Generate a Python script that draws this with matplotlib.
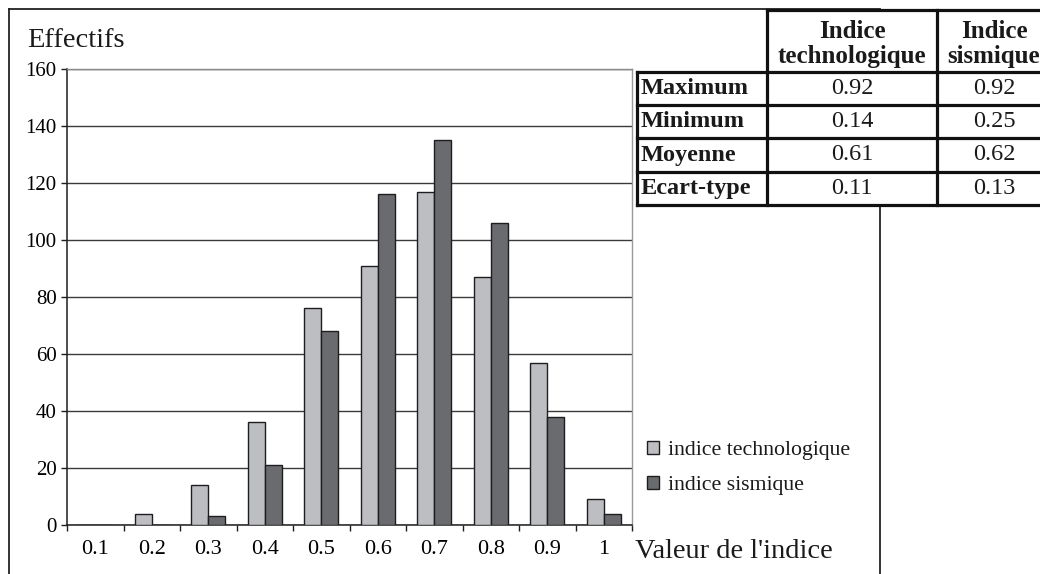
import numpy as np
import matplotlib
matplotlib.use("Agg")
import matplotlib.pyplot as plt
from matplotlib.lines import Line2D

# Histogram data: number of communes per index class
categories = ["0.1", "0.2", "0.3", "0.4", "0.5", "0.6", "0.7", "0.8", "0.9", "1"]
indice_techno = [0, 4, 14, 36, 76, 91, 117, 87, 57, 9]
indice_sismique = [0, 0, 3, 21, 68, 116, 135, 106, 38, 4]
series_names = ["indice technologique", "indice sismique"]

# Summary statistics table
stat_rows = ["Maximum", "Minimum", "Moyenne", "Ecart-type"]
stat_headers = [("Indice", "technologique"), ("Indice", "sismique")]
stats_techno = ["0.92", "0.14", "0.61", "0.11"]
stats_sismique = ["0.92", "0.25", "0.62", "0.13"]

LIGHT = "#bdbec2"
DARK = "#6a6b6f"
EDGE = "#1e1e1e"
GRID = "#3a3a3a"

plt.rcParams["font.family"] = ["Liberation Serif", "DejaVu Serif"]
plt.rcParams["text.color"] = "#1a1a1a"

W, H = 1040, 574
fig = plt.figure(figsize=(W / 100, H / 100), dpi=100)


def box(x0, y0, x1, y1):
    return [x0 / W, 1 - y1 / H, (x1 - x0) / W, (y1 - y0) / H]


# ---- bar chart ----
ax = fig.add_axes(box(67, 69, 632, 525))
x = np.arange(len(categories))
bw = 0.3
b1 = ax.bar(x - bw / 2, indice_techno, bw, color=LIGHT, edgecolor=EDGE,
            linewidth=1.0, zorder=3, label=series_names[0])
b2 = ax.bar(x + bw / 2, indice_sismique, bw, color=DARK, edgecolor=EDGE,
            linewidth=1.0, zorder=3, label=series_names[1])

ax.set_xlim(-0.5, len(categories) - 0.5)
ax.set_ylim(0, 160)
ax.set_yticks(np.arange(0, 161, 20))
ax.yaxis.grid(True, color=GRID, linewidth=1.0)
ax.set_axisbelow(True)

ax.set_xticks(np.arange(-0.5, len(categories), 1))
ax.set_xticklabels([])
ax.set_xticks(x, minor=True)
ax.set_xticklabels(categories, minor=True)
ax.tick_params(axis="x", which="major", length=4.5, width=1.0, color=EDGE,
               direction="out")
ax.tick_params(axis="x", which="minor", length=0, pad=11, labelsize=16)
ax.tick_params(axis="y", length=4.5, width=1.0, color=EDGE, pad=3,
               labelsize=15)

for side in ("left", "bottom"):
    ax.spines[side].set_color(EDGE)
    ax.spines[side].set_linewidth(1.1)
ax.spines["top"].set_color("#8a8a8a")
ax.spines["right"].set_color("#9a9a9a")
ax.spines["top"].set_linewidth(1.0)
ax.spines["right"].set_linewidth(1.0)

fig.text(27 / W, 1 - 47 / H, "Effectifs", fontsize=20.5, va="baseline",
         ha="left")
fig.text(635 / W, 1 - 558 / H, "Valeur de l'indice", fontsize=20.5,
         va="baseline", ha="left")

# ---- overlay in pixel coordinates for frame, legend and table ----
ov = fig.add_axes([0, 0, 1, 1], facecolor="none")
ov.set_xlim(0, W)
ov.set_ylim(H, 0)
ov.axis("off")

leg = ov.legend(handles=[b1, b2], labels=series_names, loc="upper left",
                bbox_to_anchor=(647, 441), bbox_transform=ov.transData,
                frameon=False, fontsize=15.7, handlelength=0.55,
                handleheight=0.55, handletextpad=0.4, labelspacing=0.7,
                borderpad=0, borderaxespad=0)

fw = 1.3
ov.add_line(Line2D([8.5, 8.5], [8.5, H], color="#222222", lw=fw))
ov.add_line(Line2D([8.5, 880], [8.5, 8.5], color="#222222", lw=fw))
ov.add_line(Line2D([879.5, 879.5], [205, H], color="#222222", lw=fw))

tw = 2.3
tc = "#111111"
xl, xc1, xc2, xr = 637, 767, 937, 1052
yt, yh, yb = 9.5, 72, 205
row_edges = [72, 104.5, 138, 172, 205]
ov.add_line(Line2D([xc1, xr], [yt, yt], color=tc, lw=tw))
ov.add_line(Line2D([xl, xr], [yh, yh], color=tc, lw=tw))
for yy in row_edges[1:]:
    ov.add_line(Line2D([xl, xr], [yy, yy], color=tc, lw=tw))
ov.add_line(Line2D([xl, xl], [yh, yb], color=tc, lw=tw))
ov.add_line(Line2D([xc1, xc1], [yt, yb], color=tc, lw=tw))
ov.add_line(Line2D([xc2, xc2], [yt, yb], color=tc, lw=tw))

col_centers = [852, 994]
for cx, (l1, l2) in zip(col_centers, stat_headers):
    ov.text(cx, 31, l1, ha="center", va="center", fontsize=18,
            fontweight="bold")
    ov.text(cx, 57, l2, ha="center", va="center", fontsize=18,
            fontweight="bold")

for i, name in enumerate(stat_rows):
    cy = (row_edges[i] + row_edges[i + 1]) / 2
    ov.text(641, cy, name, ha="left", va="center", fontsize=17.5,
            fontweight="bold")
    ov.text(col_centers[0], cy, stats_techno[i], ha="center", va="center",
            fontsize=17.5)
    ov.text(col_centers[1], cy, stats_sismique[i], ha="center", va="center",
            fontsize=17.5)

fig.savefig("out.png", dpi=100, facecolor="white")
